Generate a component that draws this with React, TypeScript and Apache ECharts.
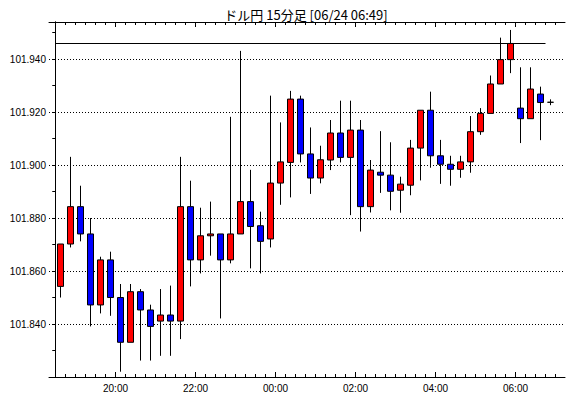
import React, { useEffect, useRef } from 'react';
import * as echarts from 'echarts';

const chartTitle = 'ドル円 15分足 [06/24 06:49]';

const times = [
  '18:30', '18:45', '19:00', '19:15', '19:30', '19:45', '20:00', '20:15', '20:30', '20:45',
  '21:00', '21:15', '21:30', '21:45', '22:00', '22:15', '22:30', '22:45', '23:00', '23:15',
  '23:30', '23:45', '00:00', '00:15', '00:30', '00:45', '01:00', '01:15', '01:30', '01:45',
  '02:00', '02:15', '02:30', '02:45', '03:00', '03:15', '03:30', '03:45', '04:00', '04:15',
  '04:30', '04:45', '05:00', '05:15', '05:30', '05:45', '06:00', '06:15', '06:30', '06:45',
];

const opens = [
  101.8542, 101.8702, 101.8843, 101.874, 101.8472, 101.8642, 101.85, 101.8331, 101.8522, 101.8453,
  101.8411, 101.8434, 101.8411, 101.8843, 101.8642, 101.8733, 101.874, 101.8642, 101.874, 101.8862,
  101.8771, 101.8721, 101.8932, 101.901, 101.9249, 101.9042, 101.8951, 101.9019, 101.9121, 101.9029,
  101.9132, 101.8843, 101.8973, 101.8962, 101.8905, 101.8924, 101.9064, 101.9207, 101.9035, 101.9003,
  101.8984, 101.9012, 101.9126, 101.9195, 101.9306, 101.9398, 101.9215, 101.9175, 101.9268, 101.9237,
];
const closes = [
  101.8702, 101.8843, 101.874, 101.8472, 101.8642, 101.85, 101.8331, 101.8522, 101.8453, 101.8391,
  101.8434, 101.8411, 101.8843, 101.8642, 101.8733, 101.874, 101.8642, 101.874, 101.8862, 101.8768,
  101.8712, 101.8932, 101.9012, 101.9249, 101.9042, 101.8951, 101.902, 101.9121, 101.9029, 101.9132,
  101.8843, 101.8981, 101.8962, 101.8901, 101.8928, 101.9064, 101.9207, 101.9035, 101.9003, 101.8984,
  101.9012, 101.9126, 101.9195, 101.9306, 101.9398, 101.9459, 101.9175, 101.9287, 101.9236, 101.9237,
];
const lows = [
  101.85, 101.8689, 101.8712, 101.8391, 101.844, 101.8431, 101.822, 101.8331, 101.8262, 101.8262,
  101.828, 101.828, 101.8343, 101.8542, 101.8591, 101.8658, 101.8421, 101.8629, 101.874, 101.861,
  101.8591, 101.8689, 101.885, 101.8878, 101.901, 101.8891, 101.8931, 101.8981, 101.901, 101.8811,
  101.8749, 101.8821, 101.8895, 101.8829, 101.882, 101.8886, 101.8942, 101.899, 101.8929, 101.8922,
  101.8952, 101.8971, 101.9114, 101.9195, 101.9306, 101.9347, 101.9083, 101.9175, 101.9094, 101.9226,
];
const highs = [
  101.8702, 101.9031, 101.8922, 101.88, 101.8654, 101.8673, 101.8551, 101.8551, 101.8532, 101.8473,
  101.8532, 101.8545, 101.9031, 101.8941, 101.8839, 101.8862, 101.874, 101.9182, 101.9431, 101.8982,
  101.8824, 101.9262, 101.9161, 101.928, 101.9262, 101.9142, 101.9073, 101.917, 101.9243, 101.9243,
  101.917, 101.9019, 101.9128, 101.9086, 101.8956, 101.9095, 101.9207, 101.9277, 101.9095, 101.9035,
  101.9035, 101.9185, 101.9215, 101.9338, 101.9481, 101.951, 101.9369, 101.9369, 101.9296, 101.9248,
];

const yLabelValues = [101.84, 101.86, 101.88, 101.9, 101.92, 101.94];
const yTickValues = [
  101.83, 101.84, 101.85, 101.86, 101.87, 101.88, 101.89, 101.9, 101.91, 101.92, 101.93, 101.94, 101.95,
];
const refLevel = 101.946;

const Y_MIN = 101.82;
const Y_MAX = 101.954;
const X_MIN = -0.65;
const X_MAX = 50.95;

export default function App() {
  const ref = useRef<HTMLDivElement>(null);

  useEffect(() => {
    document.body.style.margin = '0';
    const chart = echarts.init(ref.current!, null, { renderer: 'svg' });

    const boundaries = Array.from({ length: times.length + 1 }, (_, i) => i);
    const majorIdx = times
      .map((t, i) => ({ t, i }))
      .filter(({ t }) => t.endsWith(':00') && parseInt(t.slice(0, 2), 10) % 2 === 0)
      .map(({ i }) => i);

    const candleData = times.map((_, i) => [i + 0.5, opens[i], closes[i], lows[i], highs[i]]);

    const labelFont = { fontFamily: 'Liberation Sans', fontSize: 10, color: '#000' };
    const blackLine = { color: '#000', width: 1 };

    const baseX = {
      type: 'value' as const,
      min: X_MIN,
      max: X_MAX,
      splitLine: { show: false },
    };
    const baseY = {
      type: 'value' as const,
      min: Y_MIN,
      max: Y_MAX,
      splitLine: { show: false },
    };

    chart.setOption({
      animation: false,
      backgroundColor: '#fff',
      grid: { left: 49, right: 5, top: 22, bottom: 21 },
      graphic: [
        {
          type: 'text',
          x: 306,
          y: 14,
          style: {
            text: chartTitle,
            textAlign: 'center',
            textVerticalAlign: 'middle',
            fontFamily: 'Noto Sans CJK JP',
            fontSize: 13,
            fill: '#000',
          },
        },
      ],
      xAxis: [
        {
          ...baseX,
          position: 'bottom',
          axisLine: { show: true, lineStyle: blackLine },
          axisTick: { show: true, inside: true, length: 3, customValues: boundaries, lineStyle: blackLine },
          axisLabel: {
            show: true,
            ...labelFont,
            margin: 6,
            customValues: majorIdx,
            formatter: (v: number) => times[Math.round(v)] ?? '',
          },
        },
        {
          ...baseX,
          position: 'bottom',
          axisLine: { show: false },
          axisTick: { show: true, inside: true, length: 5, customValues: majorIdx, lineStyle: blackLine },
          axisLabel: { show: false },
        },
        {
          ...baseX,
          position: 'top',
          axisLine: { show: true, lineStyle: blackLine },
          axisTick: { show: true, inside: true, length: 3, customValues: boundaries, lineStyle: blackLine },
          axisLabel: { show: false },
        },
        {
          ...baseX,
          position: 'top',
          axisLine: { show: false },
          axisTick: { show: true, inside: true, length: 5, customValues: majorIdx, lineStyle: blackLine },
          axisLabel: { show: false },
        },
      ],
      yAxis: [
        {
          ...baseY,
          position: 'left',
          axisLine: { show: true, lineStyle: blackLine },
          axisTick: { show: true, inside: false, length: 3, customValues: yTickValues, lineStyle: blackLine },
          axisLabel: {
            show: true,
            ...labelFont,
            margin: 3,
            customValues: yLabelValues,
            formatter: (v: number) => v.toFixed(3),
          },
        },
        {
          ...baseY,
          position: 'right',
          axisLine: { show: true, lineStyle: blackLine },
          axisTick: { show: true, inside: true, length: 3, customValues: yTickValues, lineStyle: blackLine },
          axisLabel: { show: false },
        },
        {
          ...baseY,
          position: 'left',
          interval: 0.02,
          axisLine: { show: false },
          axisTick: { show: false },
          axisLabel: { show: false },
          splitLine: { show: true, lineStyle: { color: '#000', width: 1, type: [1, 2] } },
        },
      ],
      series: [
        {
          type: 'candlestick',
          xAxisIndex: 0,
          yAxisIndex: 0,
          barWidth: 6,
          z: 3,
          itemStyle: {
            color: '#ff0000',
            color0: '#0000ff',
            borderColor: '#000',
            borderColor0: '#000',
            borderColorDoji: '#000',
            borderWidth: 1,
          },
          data: candleData,
          markLine: {
            silent: true,
            symbol: 'none',
            label: { show: false },
            lineStyle: { color: '#000', width: 1, type: 'solid' },
            data: [
              [
                { coord: [0, refLevel] },
                { coord: [times.length - 1, refLevel] },
              ],
            ],
          },
        },
      ],
    });

    return () => chart.dispose();
  }, []);

  return (
    <div
      ref={ref}
      style={{ position: 'absolute', left: 0, top: 0, width: 570, height: 398 }}
    />
  );
}
